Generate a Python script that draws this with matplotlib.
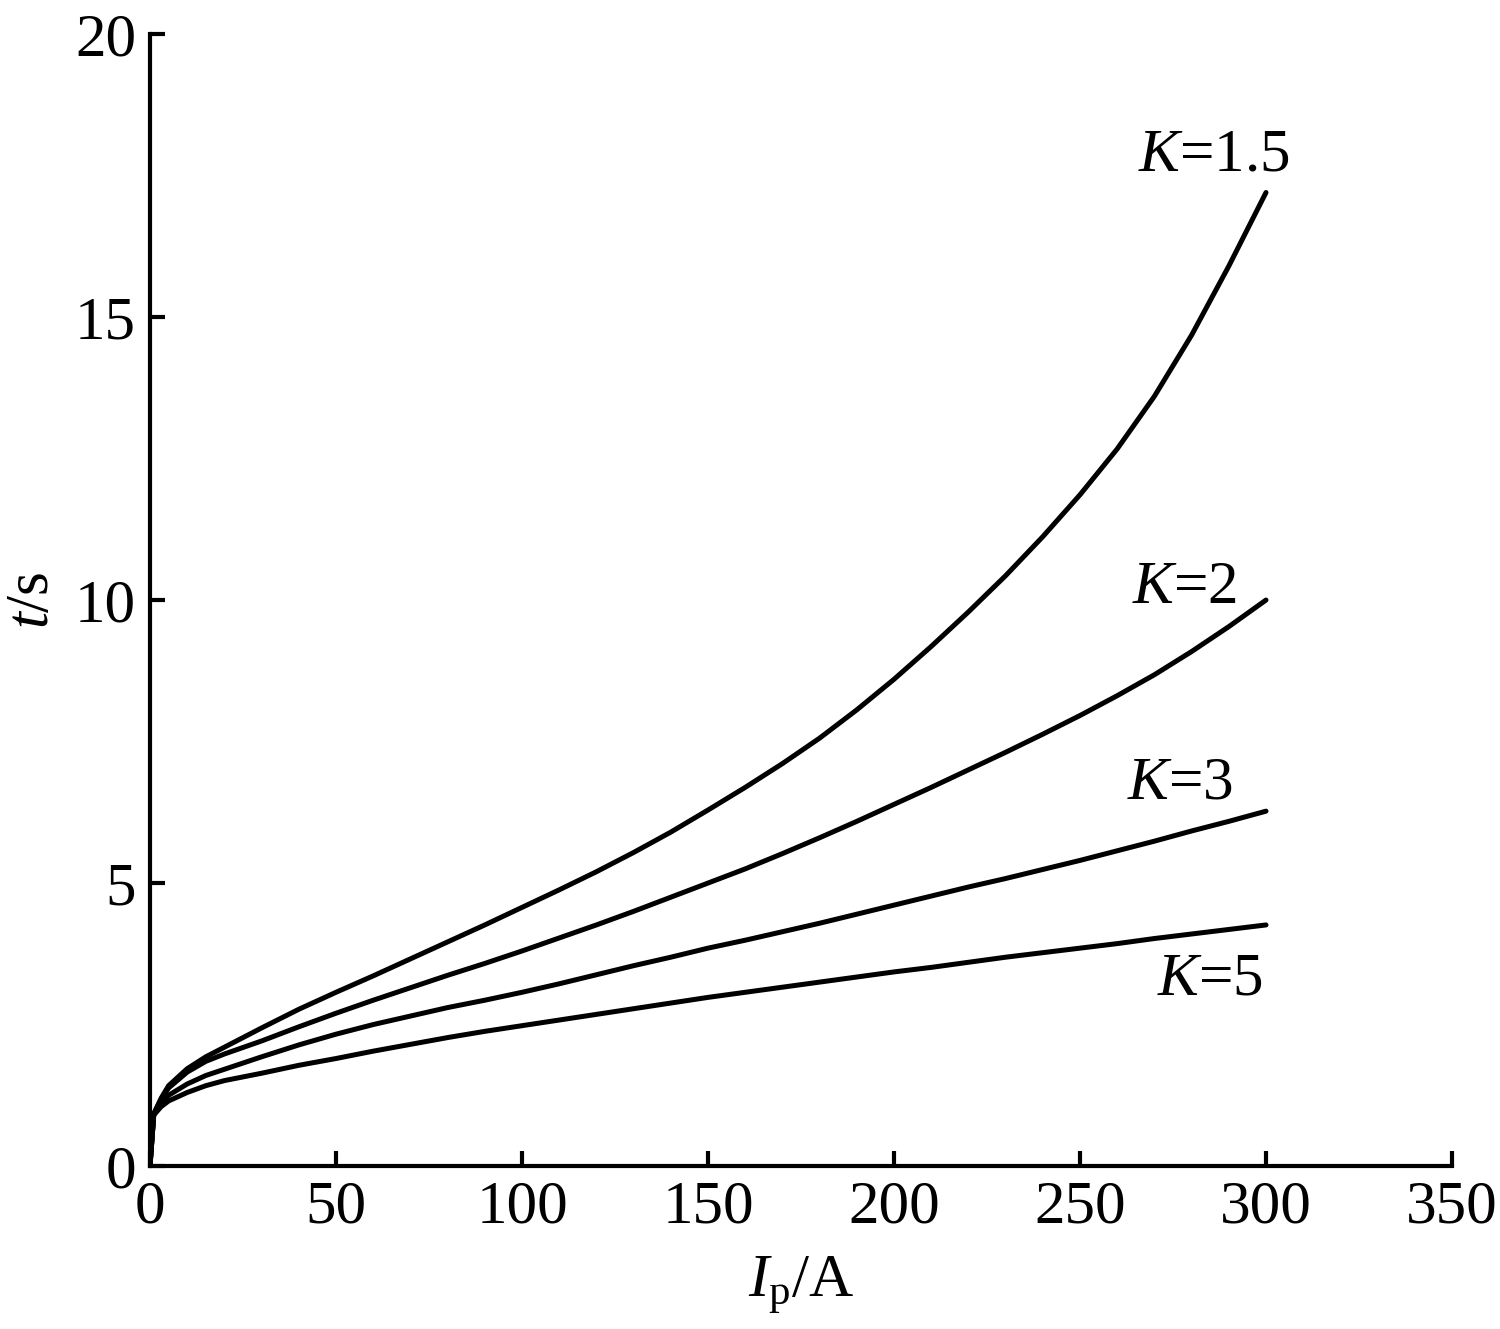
import numpy as np
import matplotlib
matplotlib.use('Agg')
import matplotlib.pyplot as plt

plt.rcParams['font.family'] = 'Liberation Serif'
plt.rcParams['mathtext.fontset'] = 'custom'
plt.rcParams['mathtext.rm'] = 'Liberation Serif'
plt.rcParams['mathtext.it'] = 'Liberation Serif:italic'

# values
ip = [0, 1, 3, 5, 10, 15, 20, 30, 40, 50, 60, 70, 80, 90, 100, 110, 120, 130, 140, 150,
      160, 170, 180, 190, 200, 210, 220, 230, 240, 250, 260, 270, 280, 290, 300]
t_k15 = [0, 0.92, 1.2, 1.42, 1.72, 1.93, 2.1, 2.44, 2.77, 3.07, 3.36, 3.66, 3.96, 4.26, 4.57,
         4.88, 5.2, 5.54, 5.9, 6.29, 6.69, 7.11, 7.56, 8.06, 8.6, 9.18, 9.79, 10.43, 11.12, 11.86,
         12.67, 13.6, 14.68, 15.9, 17.2]
t_k2 = [0, 0.92, 1.18, 1.38, 1.66, 1.85, 1.98, 2.21, 2.46, 2.7, 2.93, 3.15, 3.37, 3.58, 3.8,
        4.03, 4.26, 4.5, 4.75, 5.0, 5.25, 5.52, 5.8, 6.09, 6.39, 6.69, 7.0, 7.31, 7.63, 7.96,
        8.31, 8.68, 9.09, 9.53, 10.0]
t_k3 = [0, 0.9, 1.12, 1.25, 1.45, 1.6, 1.71, 1.93, 2.14, 2.33, 2.5, 2.65, 2.8, 2.93, 3.07,
        3.22, 3.38, 3.54, 3.69, 3.85, 3.99, 4.14, 4.29, 4.45, 4.61, 4.77, 4.93, 5.08, 5.24, 5.4,
        5.57, 5.74, 5.92, 6.09, 6.27]
t_k5 = [0, 0.9, 1.05, 1.15, 1.3, 1.42, 1.51, 1.64, 1.78, 1.9, 2.03, 2.15, 2.27, 2.38, 2.48,
        2.58, 2.68, 2.78, 2.88, 2.98, 3.07, 3.16, 3.25, 3.34, 3.43, 3.51, 3.6, 3.69, 3.77, 3.85,
        3.93, 4.02, 4.1, 4.18, 4.26]

labels = ['$K$=1.5', '$K$=2', '$K$=3', '$K$=5']
label_pos = [(286, 17.85), (278, 10.2), (277, 6.75), (285, 3.3)]

fig = plt.figure(figsize=(15, 13.29), dpi=100)
ax = fig.add_axes([0.1, 0.1226, 0.868, 0.8518])

for t in [t_k15, t_k2, t_k3, t_k5]:
  ax.plot(ip, t, color='black', lw=3.6, solid_capstyle='round', solid_joinstyle='round')

for lab, (x, y) in zip(labels, label_pos):
  ax.text(x, y, lab, fontsize=44, ha='center', va='center')

ax.set_xlim(0, 350)
ax.set_ylim(0, 20)
ax.set_xticks(np.arange(0, 351, 50))
ax.set_yticks(np.arange(0, 21, 5))
ax.spines['top'].set_visible(False)
ax.spines['right'].set_visible(False)
for s in ['left', 'bottom']:
  ax.spines[s].set_linewidth(3)
ax.tick_params(direction='in', length=11, width=3, labelsize=44, pad=10)

ax.set_xlabel('$I_{\\mathrm{p}}$/A', fontsize=44, labelpad=14)
ax.set_ylabel('$t$/s', fontsize=44, labelpad=10)

plt.savefig('out.png')
